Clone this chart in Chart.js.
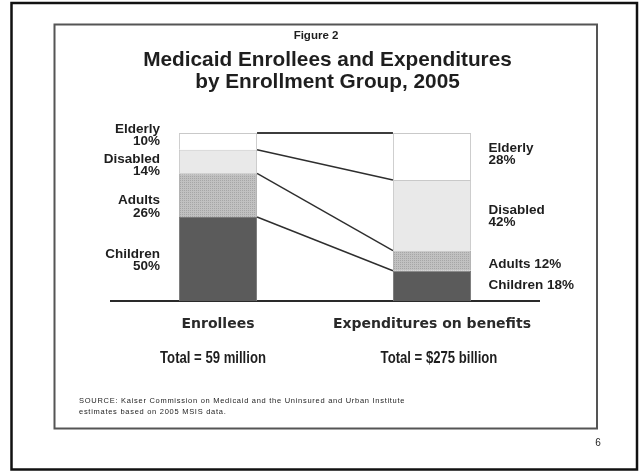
<!DOCTYPE html>
<html>
<head>
<meta charset="utf-8">
<script src="https://cdn.jsdelivr.net/npm/chart.js@4/dist/chart.umd.min.js"></script>
<style>
html, body { margin: 0; padding: 0; background: #fff; }
canvas { display: block; }
</style>
</head>
<body>
<canvas id="medicaidChart" width="639" height="471"></canvas>
<script>
// groups from the bottom of each stack to the top
const groups = ['Children', 'Adults', 'Disabled', 'Elderly'];
const columns = ['Enrollees', 'Expenditures on benefits'];
// percent of the total in each column
const enrolleeShare = [50, 26, 14, 10];
const spendingShare = [18, 12, 42, 28];
const totals = ['Total = 59 million', 'Total = $275 billion'];

// where each group's label starts, in percent units of the y scale
const leftLabelAt = [25.6, 57.7, 82.3, 100.2];
const rightLabelAt = [7.0, 19.5, 51.8, 88.9];
const rightOneLine = [true, true, false, false];

const TEXT = '#1e1e1e';
const ARIAL = "'Liberation Sans', Arial, sans-serif";

function dotPattern() {
  const c = document.createElement('canvas');
  c.width = 2; c.height = 2;
  const g = c.getContext('2d');
  g.fillStyle = '#c1c1c1';
  g.fillRect(0, 0, 2, 2);
  g.fillStyle = '#a6a6a6';
  g.fillRect(0, 0, 1, 1);
  return g.createPattern(c, 'repeat');
}

const ctx0 = document.getElementById('medicaidChart').getContext('2d');
const fills = ['#5b5b5b', dotPattern(), '#e9e9e9', '#ffffff'];
const edges = ['#7a7a7a', '#b0b0b0', '#c9c9c9', '#c9c9c9'];

const datasets = groups.map((g, i) => ({
  label: g,
  data: [enrolleeShare[i], spendingShare[i]],
  backgroundColor: fills[i],
  borderColor: edges[i],
  borderWidth: 1,
  barPercentage: 0.365,
  categoryPercentage: 1
}));

function twoLines(ctx, lines, x, y, lh) {
  lines.forEach((t, k) => ctx.fillText(t, x, y + k * lh));
}

// narrow bold text, squeezed like Arial Narrow
function narrowText(ctx, text, cx, y, squeeze) {
  ctx.save();
  ctx.translate(cx, y);
  ctx.scale(squeeze, 1);
  ctx.textAlign = 'center';
  ctx.fillText(text, 0, 0);
  ctx.restore();
}

const decor = {
  id: 'decor',
  beforeDraw(chart) {
    const ctx = chart.ctx;
    ctx.save();
    ctx.fillStyle = '#fff';
    ctx.fillRect(0, 0, chart.width, chart.height);
    ctx.restore();
  },
  afterDatasetsDraw(chart) {
    const ctx = chart.ctx;
    const ys = chart.scales.y;
    ctx.save();
    // lines joining the group boundaries of the two bars
    ctx.strokeStyle = '#2e2e2e';
    ctx.lineWidth = 1.4;
    for (let i = 0; i < groups.length - 1; i++) {
      const a = chart.getDatasetMeta(i).data[0];
      const b = chart.getDatasetMeta(i).data[1];
      ctx.beginPath();
      ctx.moveTo(a.x + a.width / 2, a.y);
      ctx.lineTo(b.x - b.width / 2, b.y);
      ctx.stroke();
    }
    // top rule between the bars
    const top = chart.getDatasetMeta(groups.length - 1).data;
    ctx.strokeStyle = '#3c3c3c';
    ctx.lineWidth = 2;
    ctx.beginPath();
    ctx.moveTo(top[0].x + top[0].width / 2, ys.getPixelForValue(100));
    ctx.lineTo(top[1].x - top[1].width / 2, ys.getPixelForValue(100));
    ctx.stroke();
    ctx.restore();
  },
  afterDraw(chart) {
    const ctx = chart.ctx;
    const xs = chart.scales.x;
    const ys = chart.scales.y;
    const bars = chart.getDatasetMeta(0).data;
    ctx.save();

    // frames
    ctx.strokeStyle = '#111';
    ctx.lineWidth = 2.5;
    ctx.strokeRect(11.5, 3, 625.5, 466.5);
    ctx.strokeStyle = '#555';
    ctx.lineWidth = 2;
    ctx.strokeRect(54.5, 24.5, 542.5, 404);

    ctx.fillStyle = TEXT;
    ctx.textAlign = 'center';
    ctx.textBaseline = 'alphabetic';
    ctx.font = 'bold 11.5px ' + ARIAL;
    ctx.fillText('Figure 2', 316, 38.5);
    ctx.font = 'bold 20.8px ' + ARIAL;
    ctx.fillText('Medicaid Enrollees and Expenditures', 327.5, 66);
    ctx.fillText('by Enrollment Group, 2005', 327.5, 88);

    // group labels beside each bar
    ctx.font = 'bold 13.5px ' + ARIAL;
    ctx.textAlign = 'right';
    const lx = bars[0].x - bars[0].width / 2 - 19;
    groups.forEach((g, i) => {
      twoLines(ctx, [g, enrolleeShare[i] + '%'], lx, ys.getPixelForValue(leftLabelAt[i]), 12.5);
    });
    ctx.textAlign = 'left';
    const rx = bars[1].x + bars[1].width / 2 + 17.5;
    groups.forEach((g, i) => {
      const lines = rightOneLine[i] ? [g + ' ' + spendingShare[i] + '%'] : [g, spendingShare[i] + '%'];
      twoLines(ctx, lines, rx, ys.getPixelForValue(rightLabelAt[i]), 12.5);
    });

    // totals under the column names
    ctx.font = 'bold 16px ' + ARIAL;
    narrowText(ctx, totals[0], xs.getPixelForValue(0) - 5, 363, 0.82);
    narrowText(ctx, totals[1], xs.getPixelForValue(1) + 7, 363, 0.82);

    // source note and page number
    ctx.textAlign = 'left';
    ctx.font = '7.5px ' + ARIAL;
    ctx.letterSpacing = '0.72px';
    ctx.fillText('SOURCE: Kaiser Commission on Medicaid and the Uninsured and Urban Institute', 79, 402.5);
    ctx.fillText('estimates based on 2005 MSIS data.', 79, 414);
    ctx.letterSpacing = '0px';
    ctx.textAlign = 'center';
    ctx.font = '10px ' + ARIAL;
    ctx.fillText('6', 598, 446);
    ctx.restore();
  }
};

new Chart(ctx0, {
  type: 'bar',
  data: { labels: columns, datasets: datasets },
  options: {
    responsive: false,
    animation: false,
    layout: { padding: { left: 111, right: 100, top: 133, bottom: 130 } },
    plugins: { legend: { display: false }, tooltip: { enabled: false } },
    scales: {
      x: {
        stacked: true,
        grid: { display: false, drawTicks: false },
        border: { display: true, color: '#2a2a2a', width: 2 },
        ticks: {
          color: '#2a2a2a',
          font: { family: 'DejaVu Sans', size: 14, weight: 'bold' },
          padding: 15,
          maxRotation: 0,
          autoSkip: false
        },
        afterFit(s) { s.height = 40; }
      },
      y: { stacked: true, display: false, min: 0, max: 100 }
    }
  },
  plugins: [decor]
});
</script>
</body>
</html>
